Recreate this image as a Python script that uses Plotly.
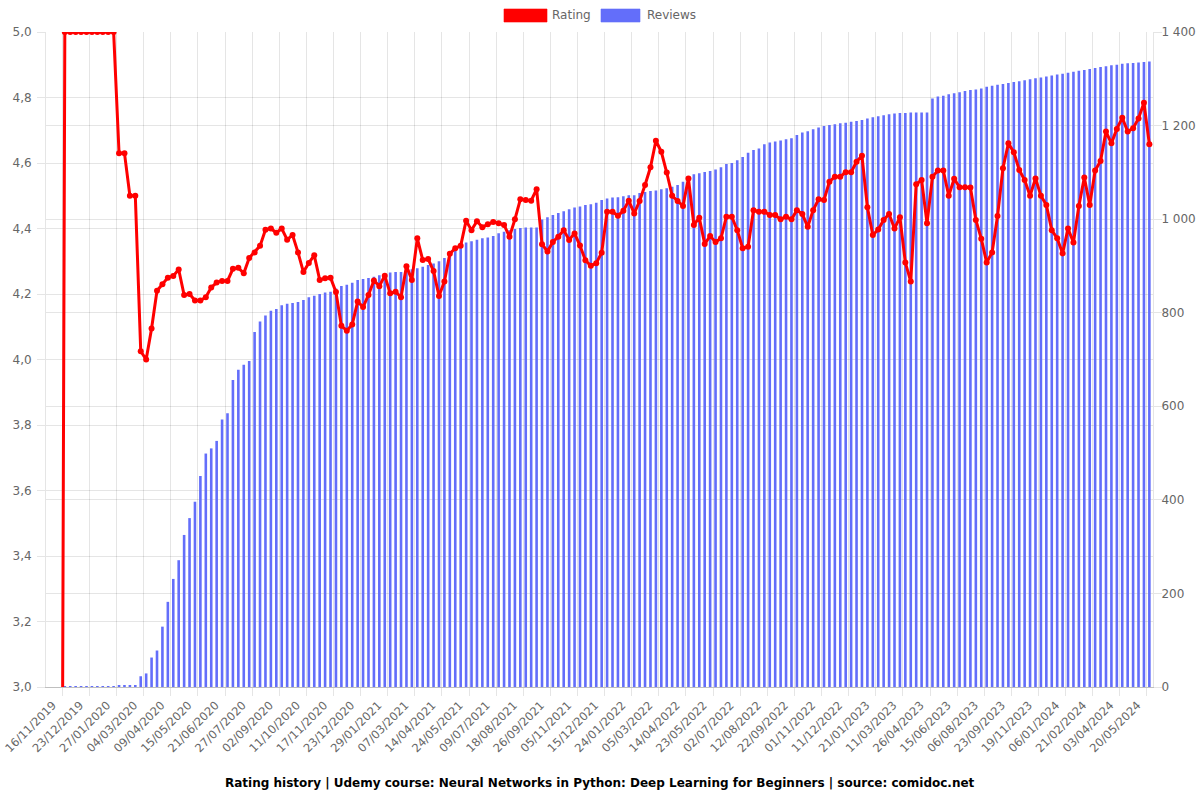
import plotly.graph_objects as go

tick_labels = ["16/11/2019", "23/12/2019", "27/01/2020", "04/03/2020", "09/04/2020", "15/05/2020",
               "21/06/2020", "27/07/2020", "02/09/2020", "11/10/2020", "17/11/2020", "23/12/2020",
               "29/01/2021", "07/03/2021", "14/04/2021", "24/05/2021", "09/07/2021", "18/08/2021",
               "26/09/2021", "05/11/2021", "15/12/2021", "24/01/2022", "05/03/2022", "14/04/2022",
               "23/05/2022", "02/07/2022", "12/08/2022", "22/09/2022", "01/11/2022", "11/12/2022",
               "21/01/2023", "11/03/2023", "26/04/2023", "15/06/2023", "06/08/2023", "23/09/2023",
               "19/11/2023", "06/01/2024", "21/02/2024", "03/04/2024", "20/05/2024"]

rating = [0, 5.0, 5.0, 5.0, 5.0, 5.0, 5.0, 5.0, 5.0, 5.0, 5.0,
          4.63, 4.63, 4.50, 4.50, 4.025, 4.0, 4.095, 4.21, 4.23, 4.25,
          4.255, 4.275, 4.197, 4.20, 4.18, 4.18, 4.19, 4.22, 4.235, 4.24,
          4.24, 4.277, 4.28, 4.263, 4.31, 4.327, 4.347, 4.396, 4.40, 4.387,
          4.40, 4.366, 4.38, 4.327, 4.267, 4.295, 4.318, 4.243, 4.248, 4.25,
          4.206, 4.103, 4.088, 4.107, 4.177, 4.16, 4.197, 4.241, 4.224, 4.256,
          4.202, 4.207, 4.19, 4.285, 4.243, 4.37, 4.304, 4.307, 4.27, 4.194,
          4.238, 4.323, 4.34, 4.347, 4.424, 4.395, 4.422, 4.404, 4.413, 4.42,
          4.416, 4.411, 4.375, 4.428, 4.489, 4.487, 4.485, 4.52, 4.352, 4.33,
          4.359, 4.375, 4.395, 4.365, 4.385, 4.348, 4.303, 4.286, 4.294, 4.326,
          4.451, 4.451, 4.439, 4.454, 4.485, 4.446, 4.484, 4.533, 4.587, 4.668,
          4.634, 4.571, 4.50, 4.484, 4.469, 4.553, 4.411, 4.433, 4.353, 4.377,
          4.359, 4.37, 4.436, 4.436, 4.395, 4.34, 4.344, 4.456, 4.451, 4.451,
          4.441, 4.441, 4.428, 4.436, 4.428, 4.456, 4.444, 4.405, 4.456, 4.489,
          4.487, 4.543, 4.558, 4.558, 4.572, 4.572, 4.604, 4.622, 4.465, 4.38,
          4.397, 4.426, 4.444, 4.40, 4.434, 4.296, 4.238, 4.535, 4.548, 4.416,
          4.558, 4.577, 4.577, 4.50, 4.552, 4.526, 4.526, 4.525, 4.426, 4.369,
          4.296, 4.327, 4.438, 4.584, 4.66, 4.633, 4.579, 4.548, 4.50, 4.553,
          4.50, 4.472, 4.395, 4.37, 4.324, 4.40, 4.357, 4.469, 4.556, 4.472,
          4.577, 4.606, 4.696, 4.66, 4.704, 4.738, 4.696, 4.706, 4.736, 4.784,
          4.657]

reviews = [0, 1, 1, 1, 2, 2, 2, 2, 2, 2, 2,
           3, 3, 4, 4, 23, 29, 63, 78, 129, 182,
           231, 271, 325, 361, 396, 451, 499, 510, 526, 572,
           585, 656, 678, 689, 697, 759, 781, 794, 804, 808,
           816, 819, 821, 823, 827, 833, 836, 840, 843, 845,
           852, 857, 860, 864, 870, 872, 874, 877, 880, 883,
           886, 887, 887, 889, 893, 895, 898, 902, 905, 910,
           917, 927, 935, 945, 950, 953, 956, 959, 961, 964,
           970, 973, 976, 979, 981, 982, 982, 982, 999, 1004,
           1009, 1013, 1017, 1021, 1025, 1027, 1030, 1032, 1035, 1041,
           1044, 1046, 1047, 1049, 1051, 1051, 1056, 1058, 1060, 1061,
           1064, 1066, 1069, 1073, 1080, 1092, 1096, 1098, 1101, 1103,
           1106, 1111, 1118, 1120, 1126, 1133, 1142, 1148, 1151, 1160,
           1164, 1166, 1168, 1171, 1173, 1180, 1185, 1188, 1192, 1196,
           1199, 1201, 1203, 1205, 1206, 1208, 1210, 1212, 1215, 1218,
           1220, 1222, 1224, 1226, 1227, 1227, 1228, 1228, 1228, 1228,
           1258, 1262, 1264, 1267, 1269, 1271, 1274, 1276, 1277, 1279,
           1283, 1285, 1287, 1289, 1291, 1293, 1295, 1297, 1299, 1301,
           1303, 1305, 1307, 1309, 1311, 1313, 1315, 1317, 1319, 1321,
           1323, 1325, 1327, 1329, 1330, 1332, 1333, 1334, 1335, 1336,
           1337]

x = list(range(len(rating)))
tick_pos = [i * 5 for i in range(len(tick_labels))]
label_pos = [p - 1.2 for p in tick_pos]
grid_pos = [p + 0.55 for p in tick_pos]

FONT = "DejaVu Sans"
GRID = "rgba(0,0,0,0.1)"
TXT = "#666666"

fig = go.Figure()
fig.add_trace(go.Bar(x=x, y=reviews, name="Reviews", marker=dict(color="#636efa", line=dict(width=0)),
                     yaxis="y"))
fig.add_trace(go.Scatter(x=x, y=rating, name="Rating", mode="lines+markers",
                         line=dict(color="red", width=3), marker=dict(color="red", size=6),
                         yaxis="y2"))

fig.update_layout(
    width=1200, height=800,
    margin=dict(l=46, r=47, t=32, b=113),
    paper_bgcolor="white", plot_bgcolor="white",
    font=dict(family=FONT, size=12, color=TXT),
    separators=", ",
    showlegend=False,
    bargap=0.52,
    xaxis=dict(
        range=[-2.47, 201.67], automargin=False,
        tickmode="array", tickvals=label_pos, ticktext=tick_labels,
        tickangle=-45, showgrid=False, ticks="",
        ticklabelstandoff=6, ticklabeloverflow="allow",
        tickfont=dict(family=FONT, size=11.5, color=TXT),
        showline=True, linecolor="rgba(0,0,0,0.25)",
        zeroline=False,
        minor=dict(tickmode="array", tickvals=grid_pos, showgrid=True, gridcolor=GRID,
                   ticks="outside", ticklen=8, tickcolor=GRID),
    ),
    yaxis=dict(
        side="right", range=[0, 1400], dtick=200, tickformat=",d", automargin=False,
        showgrid=True, gridcolor=GRID, zeroline=False,
        ticks="outside", ticklen=8, tickcolor=GRID, ticklabelstandoff=-3,
        showline=True, linecolor="rgba(0,0,0,0.1)",
        tickfont=dict(family=FONT, size=12, color=TXT),
    ),
    yaxis2=dict(
        side="left", overlaying="y", range=[3, 5], dtick=0.2, tickformat=".1f", automargin=False,
        showgrid=True, gridcolor=GRID, zeroline=False,
        ticks="outside", ticklen=8, tickcolor=GRID, ticklabelstandoff=3,
        showline=True, linecolor="rgba(0,0,0,0.1)",
        tickfont=dict(family=FONT, size=12, color=TXT),
    ),
)

def px_x(p):
    return (p - 46) / 1107.0

def px_y(p):
    return (687 - p) / 655.0

shapes = [
    dict(type="rect", xref="paper", yref="paper", x0=px_x(504), x1=px_x(547), y0=px_y(22), y1=px_y(9),
         fillcolor="red", line=dict(width=1, color="rgba(255,0,0,0.6)")),
    dict(type="rect", xref="paper", yref="paper", x0=px_x(601), x1=px_x(640), y0=px_y(22), y1=px_y(9),
         fillcolor="#636efa", line=dict(width=1, color="rgba(99,110,250,0.6)")),
]
annotations = [
    dict(text="Rating", xref="paper", yref="paper", x=px_x(550), y=px_y(15.5), xanchor="left",
         yanchor="middle", showarrow=False, font=dict(family=FONT, size=12, color=TXT)),
    dict(text="Reviews", xref="paper", yref="paper", x=px_x(645), y=px_y(15.5), xanchor="left",
         yanchor="middle", showarrow=False, font=dict(family=FONT, size=12, color=TXT)),
    dict(text="<b>Rating history | Udemy course: Neural Networks in Python: Deep Learning for Beginners | source: comidoc.net</b>",
         xref="paper", yref="paper", x=px_x(600), y=px_y(783), xanchor="center", yanchor="middle",
         showarrow=False, font=dict(family=FONT, size=12, color="#000000")),
]
fig.update_layout(shapes=shapes, annotations=annotations)

fig.write_html("out.html")
